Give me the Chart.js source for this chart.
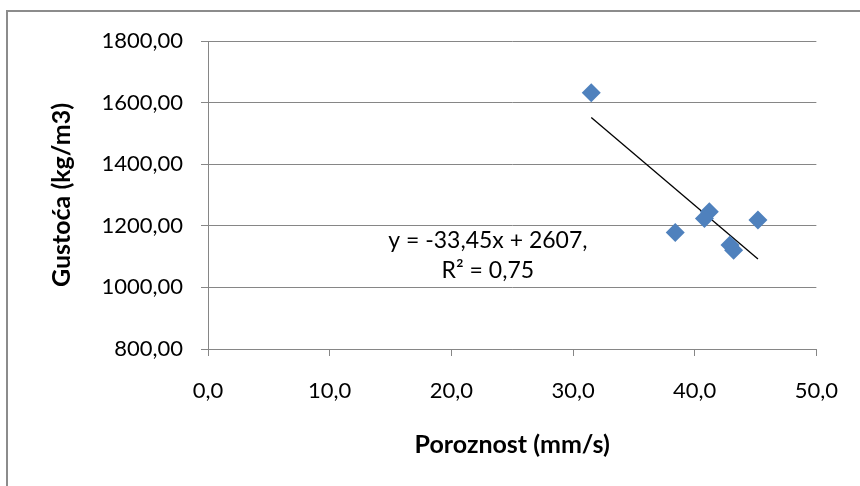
<!DOCTYPE html>
<html>
<head>
<meta charset="utf-8">
<script src="https://cdn.jsdelivr.net/npm/chart.js@4.4.1/dist/chart.umd.min.js"></script>
<style>
  body{margin:0;background:#fff;}
  #wrap{position:relative;width:860px;height:486px;overflow:hidden;}
  #frame{position:absolute;left:6px;top:10px;width:900px;height:500px;border-left:2px solid #8c8c8c;border-top:2px solid #8c8c8c;}
  canvas{position:absolute;left:0;top:0;}
</style>
</head>
<body>
<div id="wrap">
  <div id="frame"></div>
  <canvas id="mychart" width="860" height="486"></canvas>
</div>
<script>
// podaci ocitani sa grafika
let poroznost=[31.5, 38.4, 41.2, 40.8, 45.2, 42.9, 43.2];
let gustoca=[1632, 1178, 1246, 1224, 1219, 1138, 1121];
let jednadzba=['y = -33,45x + 2607,', 'R² = 0,75'];
let fontName='Lato, "Open Sans", sans-serif';

// linearni trend (najmanji kvadrati)
let n=poroznost.length;
let mx=poroznost.reduce((a,b)=>a+b,0)/n;
let my=gustoca.reduce((a,b)=>a+b,0)/n;
let sxy=0, sxx=0;
for(let i=0;i<n;i++){ sxy+=(poroznost[i]-mx)*(gustoca[i]-my); sxx+=(poroznost[i]-mx)**2; }
let k=sxy/sxx, l=my-k*mx;
let xMin=Math.min(...poroznost), xMax=Math.max(...poroznost);
let trend=[{x:xMin,y:k*xMin+l},{x:xMax,y:k*xMax+l}];

const textPlugin={
  id:'trendText',
  afterDatasetsDraw(chart){
    let ctx=chart.ctx;
    let xs=chart.scales.x, ys=chart.scales.y;
    ctx.save();
    ctx.fillStyle='#000';
    ctx.font='23px '+fontName;
    ctx.textAlign='center';
    ctx.textBaseline='middle';
    ctx.fillText(jednadzba[0], xs.getPixelForValue(23.0), ys.getPixelForValue(1151));
    ctx.fillText(jednadzba[1], xs.getPixelForValue(23.0), ys.getPixelForValue(1054));
    ctx.restore();
  }
};

let canvas=document.getElementById('mychart');
const config={
  type:'scatter',
  data:{
    datasets:[{
      label:'Gustoća',
      data:poroznost.map((v,i)=>({x:v,y:gustoca[i]})),
      pointStyle:'rectRot',
      pointRadius:9.5,
      pointHoverRadius:9.5,
      backgroundColor:'#4f81bd',
      borderColor:'#4f81bd',
      borderWidth:0
    },{
      type:'line',
      label:'Trend',
      data:trend,
      borderColor:'#000',
      borderWidth:1.3,
      pointRadius:0,
      fill:false
    }]
  },
  options:{
    responsive:false,
    animation:false,
    layout:{padding:{left:42,top:41,right:38,bottom:20}},
    plugins:{legend:{display:false},tooltip:{enabled:false}},
    scales:{
      x:{
        min:0,max:50,
        afterFit:(s)=>{s.height=117;},
        grid:{display:true,drawOnChartArea:false,drawTicks:true,tickLength:7,color:'#868686'},
        border:{color:'#868686',width:1},
        ticks:{stepSize:10,padding:22,color:'#000',font:{family:fontName,size:22},
          callback:(v)=>v.toFixed(1).replace('.',',')},
        title:{display:true,text:'Poroznost (mm/s)',color:'#000',
          font:{family:fontName,size:25,weight:'bold'},padding:{top:0,bottom:6}}
      },
      y:{
        min:800,max:1800,
        afterFit:(s)=>{s.width=166;},
        grid:{color:'#868686',tickLength:7},
        border:{color:'#868686',width:1},
        ticks:{stepSize:200,padding:18,color:'#000',font:{family:fontName,size:22},
          callback:(v)=>v.toFixed(2).replace('.',',')},
        title:{display:true,text:'Gustoća (kg/m3)',color:'#000',
          font:{family:fontName,size:25,weight:'bold'},padding:{top:5,bottom:0}}
      }
    }
  },
  plugins:[textPlugin]
};
new Chart(canvas,config);
</script>
</body>
</html>
